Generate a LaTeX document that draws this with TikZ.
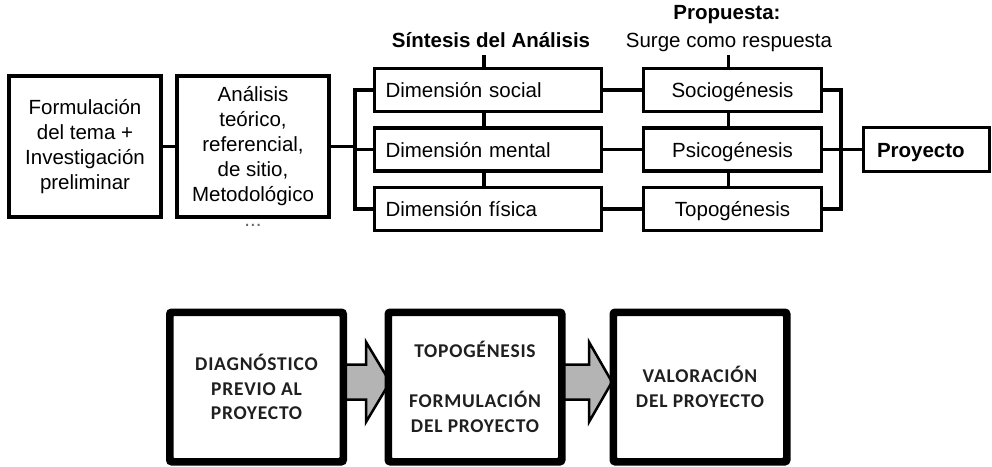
\documentclass[tikz,border=0pt]{standalone}
\usepackage{fontspec}
\setmainfont{Liberation Sans}
\newfontfamily\calfont[LetterSpace=4]{Carlito}
\usetikzlibrary{calc}
\definecolor{arrowgray}{RGB}{180,180,180}
\begin{document}
\begin{tikzpicture}[x=1pt,y=-1pt,
  topfont/.style={font=\fontsize{20.5}{25}\selectfont},
  topbox/.style={draw,line width=3.4pt,rectangle,inner xsep=0pt,inner ysep=0pt,topfont},
  conn/.style={line width=3.4pt},
  dimbox/.style={topbox,minimum height=43pt,text width=205pt,inner xsep=11pt,align=left,text height=15pt,text depth=0pt},
  propbox/.style={topbox,minimum height=43pt,minimum width=178pt,align=center,text height=15pt,text depth=0pt},
  title/.style={topfont,align=center},
  botbox/.style={draw,line width=5pt,rounded corners=3pt,fill=white,minimum width=171pt,minimum height=147pt},
  bottext/.style={align=center,text=black!88,font=\calfont\bfseries\fontsize{19.5}{24.8}\selectfont},
  garrow/.style={draw,line width=2.5pt,fill=arrowgray,line join=miter},
]
\useasboundingbox (0,0) rectangle (992,466);

% ---------- top diagram ----------
\node[topbox,minimum width=152pt,minimum height=141pt,align=center] (f1) at (85,146.5)
  {Formulación\\del tema +\\Investigación\\preliminar};
\node[topbox,minimum width=152pt,minimum height=141pt,align=center] (f2) at (253,146.5)
  {Análisis\\teórico,\\referencial,\\de sitio,\\Metodológico};
\node[topfont,text=black!60] (dots) at (253,225) {...};

\node[dimbox] (d1) at (488,90) {Dimensión social};
\node[dimbox] (d2) at (488,149.5) {Dimensión mental};
\node[dimbox] (d3) at (488,209) {Dimensión física};

\node[propbox] (p1) at (732.5,90) {Sociogénesis};
\node[propbox] (p2) at (732.5,149.5) {Psicogénesis};
\node[propbox] (p3) at (732.5,209) {Topogénesis};

\node[topbox,minimum height=44pt,text width=99pt,inner xsep=13.5pt,align=left,text height=15pt,text depth=0pt,font=\fontsize{20.5}{25}\selectfont\bfseries] (pr) at (926.5,149.5) {Proyecto};

\node[title,font=\fontsize{20.5}{25}\selectfont\bfseries] (tsyn) at (491,40) {Síntesis del Análisis};
\node[title,font=\fontsize{20.5}{25}\selectfont\bfseries] (tprop) at (727,15) {Propuesta:};
\node[title] (tsurge) at (729,42) {Surge como respuesta};

\coordinate (lb) at (355,0);
\coordinate (rb) at (841,0);

\draw[conn] (f1.east) -- (f2.west);
\draw[conn] (f2.east) -- (f2.east -| lb);
\draw[conn] (d1.west) -- (d1.west -| lb) -- (d3.west -| lb) -- (d3.west);
\draw[conn] (d2.west) -- (d2.west -| lb);

\draw[conn] ($(d1.north)+(-4,0)$) -- ($(d1.north)+(-4,-12)$);
\draw[conn] ($(d1.south)+(-4,0)$) -- ($(d2.north)+(-4,0)$);
\draw[conn] ($(d2.south)+(-4,0)$) -- ($(d3.north)+(-4,0)$);

\draw[conn] (d1.east) -- (p1.west);
\draw[conn] (d2.east) -- (p2.west);
\draw[conn] (d3.east) -- (p3.west);

\draw[conn] ($(p1.north)+(-4,0)$) -- ($(p1.north)+(-4,-12)$);
\draw[conn] ($(p1.south)+(-4,0)$) -- ($(p2.north)+(-4,0)$);
\draw[conn] ($(p2.south)+(-4,0)$) -- ($(p3.north)+(-4,0)$);

\draw[conn] (p1.east) -- (p1.east -| rb) -- (p3.east -| rb) -- (p3.east);
\draw[conn] (p2.east) -- (pr.west);

% ---------- bottom diagram ----------
\coordinate (ay) at (0,382);
\node[botbox] (b1) at (256.5,387) {};
\node[botbox] (b2) at (475,387) {};
\node[botbox] (b3) at (700,387) {};

\draw[garrow] ($(b1.east |- ay)+(-2,-17.5)$) -- ($(b2.west |- ay)+(-21,-17.5)$)
  -- ($(b2.west |- ay)+(-21,-40)$) -- ($(b2.west |- ay)+(3,0)$)
  -- ($(b2.west |- ay)+(-21,40)$) -- ($(b2.west |- ay)+(-21,17.5)$)
  -- ($(b1.east |- ay)+(-2,17.5)$);
\draw[garrow] ($(b2.east |- ay)+(-2,-17.5)$) -- ($(b3.west |- ay)+(-23,-17.5)$)
  -- ($(b3.west |- ay)+(-23,-40)$) -- ($(b3.west |- ay)+(0,0)$)
  -- ($(b3.west |- ay)+(-23,40)$) -- ($(b3.west |- ay)+(-23,17.5)$)
  -- ($(b2.east |- ay)+(-2,17.5)$);
% redraw box borders over arrow ends
\draw[line width=5pt,rounded corners=3pt] (b1.north west) rectangle (b1.south east);
\draw[line width=5pt,rounded corners=3pt] (b2.north west) rectangle (b2.south east);
\draw[line width=5pt,rounded corners=3pt] (b3.north west) rectangle (b3.south east);

\node[bottext] (t1) at (b1.center) {DIAGNÓSTICO\\PREVIO AL\\PROYECTO};
\node[bottext] (t2) at (b2.center) {TOPOGÉNESIS\\~\\FORMULACIÓN\\DEL PROYECTO};
\node[bottext] (t3) at (b3.center) {VALORACIÓN\\DEL PROYECTO};
\end{tikzpicture}
\end{document}
